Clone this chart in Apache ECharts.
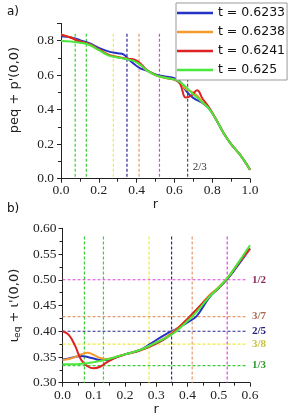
<!DOCTYPE html>
<html><head><meta charset="utf-8">
<script src="https://cdn.jsdelivr.net/npm/echarts@6/dist/echarts.min.js"></script>
<style>html,body{margin:0;padding:0;background:#fff}#c{width:291px;height:418px}</style>
</head><body><div id="c"></div>
<script>
// ---------- data ----------
const seriesNames = ['t = 0.6233', 't = 0.6238', 't = 0.6241', 't = 0.625'];

// panel a: r vs peq + p'(0,0)
const rA = [0,0.05,0.1,0.15,0.2,0.25,0.3,0.33,0.36,0.39,0.42,0.45,0.5,0.55,0.6,0.63,0.66,0.69,0.72,0.75,0.78,0.82,0.86,0.9,0.95,1.0];
const pBlue   = [0.826,0.820,0.803,0.785,0.758,0.738,0.727,0.721,0.690,0.662,0.640,0.628,0.604,0.592,0.582,0.562,0.512,0.476,0.455,0.438,0.410,0.345,0.265,0.200,0.135,0.052];
const pOrange = [0.836,0.818,0.795,0.780,0.750,0.720,0.706,0.700,0.694,0.684,0.660,0.630,0.600,0.585,0.574,0.556,0.520,0.505,0.482,0.442,0.413,0.345,0.265,0.200,0.135,0.052];
const pRed    = [0.836,0.818,0.795,0.778,0.748,0.718,0.704,0.698,0.694,0.690,0.668,0.634,0.600,0.585,0.574,0.550,0.470,0.482,0.512,0.462,0.418,0.345,0.265,0.200,0.135,0.052];
const pGreen  = [0.800,0.795,0.788,0.775,0.745,0.715,0.702,0.697,0.690,0.680,0.660,0.632,0.600,0.585,0.575,0.560,0.532,0.500,0.470,0.440,0.410,0.345,0.265,0.200,0.135,0.052];

// panel b: r vs iota_eq + iota'(0,0)
const rB = [0,0.02,0.04,0.06,0.08,0.1,0.12,0.14,0.17,0.2,0.25,0.3,0.33,0.36,0.4,0.43,0.47,0.5,0.53,0.56,0.6];
const iBlue   = [0.345,0.347,0.350,0.352,0.350,0.347,0.344,0.344,0.349,0.355,0.364,0.383,0.394,0.403,0.417,0.430,0.466,0.484,0.503,0.527,0.560];
const iOrange = [0.344,0.346,0.350,0.355,0.358,0.354,0.348,0.346,0.350,0.355,0.364,0.378,0.388,0.402,0.424,0.442,0.470,0.486,0.505,0.530,0.560];
const iRed    = [0.400,0.393,0.372,0.344,0.332,0.328,0.331,0.339,0.349,0.355,0.363,0.376,0.386,0.400,0.424,0.443,0.468,0.484,0.504,0.530,0.561];
const iGreen  = [0.336,0.336,0.336,0.337,0.338,0.340,0.342,0.345,0.350,0.355,0.364,0.378,0.387,0.398,0.420,0.438,0.467,0.485,0.505,0.531,0.567];

// reference (rational surface) lines
const vLinesA = [0.075, 0.134, 0.277, 0.349, 0.413, 0.521, 0.670];
const vLinesATop = 0.84;
const vLineALabel = '2/3';
const vLinesB = [0.070, 0.131, 0.277, 0.349, 0.415, 0.527];
const vLinesBTop = 0.584;
const hLinesB = [1/3, 3/8, 2/5, 3/7, 1/2];
const hLabelsB = ['1/3', '3/8', '2/5', '3/7', '1/2'];
const hLinesBEnd = 0.59;

// ---------- styles ----------
const curveColors = ['#2433c4', '#f59a2c', '#dc2222', '#48e83c'];
const vColorsA = ['#3ccc3c', '#3ccc3c', '#ecec3a', '#28288e', '#e49a70', '#dc44dc', '#555555'];
const vColorsB = ['#3ccc3c', '#3ccc3c', '#ecec3a', '#28288e', '#e49a70', '#dc44dc'];
const hColorsB = ['#3ccc3c', '#ecec3a', '#28288e', '#e49a70', '#dc44dc'];
const hLabelColorsB = ['#2e9a2e', '#c8c040', '#22227e', '#a86a50', '#8e2a5a'];

const serif = 'Liberation Serif';
const sans = 'DejaVu Sans';
const dash = [3, 2];

function zip(xs, ys) { return xs.map((x, i) => [x, ys[i]]); }

const series = [];
// panel a vertical lines
vLinesA.forEach((r, i) => {
  const last = i === vLinesA.length - 1;
  series.push({
    type: 'line', xAxisIndex: 0, yAxisIndex: 0, silent: true, symbol: 'circle', symbolSize: 0, showSymbol: true,
    lineStyle: { color: vColorsA[i], width: 1.2, type: dash }, itemStyle: { color: vColorsA[i] },
    data: [[r, vLinesATop], last ? { value: [r, 0], label: { show: true, position: 'right', distance: 5, offset: [0, -12], formatter: vLineALabel, fontFamily: serif, fontSize: 11, color: '#333' } } : [r, 0]],
    z: 1
  });
});
// panel b vertical lines
vLinesB.forEach((r, i) => {
  series.push({
    type: 'line', xAxisIndex: 1, yAxisIndex: 1, silent: true, symbol: 'none',
    lineStyle: { color: vColorsB[i], width: 1.2, type: dash },
    data: [[r, vLinesBTop], [r, 0.30]], z: 1
  });
});
// panel b horizontal lines
hLinesB.forEach((v, i) => {
  series.push({
    type: 'line', xAxisIndex: 1, yAxisIndex: 1, silent: true, symbol: 'circle', symbolSize: 0, showSymbol: true,
    lineStyle: { color: hColorsB[i], width: 1.2, type: dash }, itemStyle: { color: hColorsB[i] },
    data: [[0, v], { value: [hLinesBEnd, v], label: { show: true, position: 'right', distance: 5, formatter: hLabelsB[i], fontFamily: serif, fontSize: 11, fontWeight: 'bold', color: hLabelColorsB[i] } }],
    z: 1
  });
});
const pA = [pBlue, pOrange, pRed, pGreen];
const iB = [iBlue, iOrange, iRed, iGreen];
seriesNames.forEach((n, k) => {
  series.push({ name: n, type: 'line', xAxisIndex: 0, yAxisIndex: 0, symbol: 'none', smooth: 0.4,
    lineStyle: { color: curveColors[k], width: 2 }, itemStyle: { color: curveColors[k] }, data: zip(rA, pA[k]), z: 3 });
});
seriesNames.forEach((n, k) => {
  series.push({ name: n, type: 'line', xAxisIndex: 1, yAxisIndex: 1, symbol: 'none', smooth: 0.4,
    lineStyle: { color: curveColors[k], width: 2 }, itemStyle: { color: curveColors[k] }, data: zip(rB, iB[k]), z: 3 });
});

const axisCommon = {
  axisLine: { show: true, lineStyle: { color: '#222', width: 1 } },
  axisTick: { show: true, length: 4, lineStyle: { color: '#222' } },
  minorTick: { show: true, splitNumber: 2, length: 3, lineStyle: { color: '#222' } },
  splitLine: { show: false },
  nameTextStyle: { fontFamily: sans, fontSize: 13, color: '#222' }
};
const tickFont = { fontFamily: serif, fontSize: 13.5, color: '#222' };

const chart = echarts.init(document.getElementById('c'), null, { renderer: 'canvas' });
chart.setOption({
  animation: false,
  backgroundColor: '#fff',
  graphic: [
    { type: 'text', left: 7, top: 6, style: { text: 'a)', font: '12px "DejaVu Sans"', fill: '#111' } },
    { type: 'text', left: 7, top: 203, style: { text: 'b)', font: '12px "DejaVu Sans"', fill: '#111' } }
  ],
  grid: [
    { left: 53, right: 41, top: 23.4, height: 155.3 },
    { left: 53, right: 41, top: 228.3, height: 154.4 }
  ],
  legend: {
    data: seriesNames, orient: 'vertical', left: 176, top: 3,
    backgroundColor: '#fff', borderColor: '#999', borderWidth: 1,
    padding: [3, 2, 3, 1], itemGap: 5, itemWidth: 36, itemHeight: 2.5, icon: 'rect', itemTextGap: 4,
    textStyle: { fontFamily: sans, fontSize: 12.5, color: '#111', lineHeight: 14 }
  },
  xAxis: [
    Object.assign({}, axisCommon, { gridIndex: 0, type: 'value', min: 0, max: 1.0, interval: 0.2,
      name: 'r', nameLocation: 'middle', nameGap: 15,
      axisLabel: Object.assign({ margin: 5, formatter: v => v.toFixed(1) }, tickFont) }),
    Object.assign({}, axisCommon, { gridIndex: 1, type: 'value', min: 0, max: 0.6, interval: 0.1,
      name: 'r', nameLocation: 'middle', nameGap: 20,
      axisLabel: Object.assign({ margin: 6, formatter: v => v.toFixed(1) }, tickFont) })
  ],
  yAxis: [
    Object.assign({}, axisCommon, { gridIndex: 0, type: 'value', min: 0, max: 0.9, interval: 0.2,
      name: "peq + p'(0,0)", nameLocation: 'middle', nameGap: 40,
      nameTextStyle: { fontFamily: sans, fontSize: 13, color: '#222', padding: [0, 0, 0, 22] },
      axisLabel: Object.assign({ margin: 7, showMaxLabel: false, formatter: v => v.toFixed(1) }, tickFont) }),
    Object.assign({}, axisCommon, { gridIndex: 1, type: 'value', min: 0.3, max: 0.6, interval: 0.05,
      name: "{i|ι}{s|eq}{i| + ι'(0,0)}", nameLocation: 'middle', nameGap: 40,
      nameTextStyle: { fontFamily: sans, fontSize: 13, color: '#222',
        rich: { i: { fontFamily: sans, fontSize: 13, color: '#222' }, s: { fontFamily: sans, fontSize: 9, color: '#222', verticalAlign: 'bottom', padding: [6, 0, 0, 0] } } },
      axisLabel: Object.assign({ margin: 6, formatter: v => v.toFixed(2) }, tickFont) })
  ],
  series: series
});
</script>
</body></html>
